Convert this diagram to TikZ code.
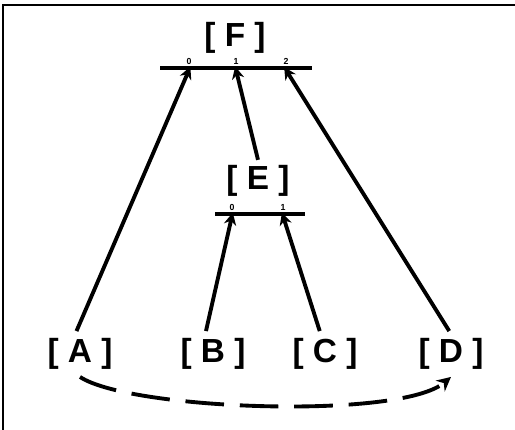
\documentclass[tikz,border=0pt]{standalone}
\usepackage{fontspec}
\setmainfont{Liberation Sans}
\usetikzlibrary{arrows.meta}

\begin{document}
\begin{tikzpicture}[x=0.02cm,y=-0.02cm,
  lbl/.style={font=\fontsize{19}{21}\selectfont\bfseries,inner sep=0pt},
  idx/.style={font=\fontsize{5}{6}\selectfont\bfseries,inner sep=0pt,anchor=south},
  bar/.style={line width=2.2pt},
  link/.style={line width=2.2pt,-{Stealth[length=7pt,width=7pt]},shorten >=-2pt}]
  \useasboundingbox (0,0) rectangle (515,430);
  \draw[line width=1.3pt] (3,430) -- (3,5) -- (515,5);
  % leaves
  \node[lbl] (A) at (80,354) {[ A ]};
  \node[lbl] (B) at (213,354) {[ B ]};
  \node[lbl] (C) at (325,354) {[ C ]};
  \node[lbl] (D) at (451,354) {[ D ]};
  % inner nodes and their bars
  \node[lbl] (F) at (235,38) {[ F ]};
  \node[lbl] (E) at (258,181) {[ E ]};
  \draw[bar] (160,68) -- (312,68);
  \draw[bar] (215,214) -- (305,214);
  \foreach \n/\x/\k in {F0/189/0,F1/236/1,F2/286/2} {
    \coordinate (\n) at (\x,70);
    \node[idx] at (\x,65) {\k};
  }
  \foreach \n/\x/\k in {E0/232/0,E1/283/1} {
    \coordinate (\n) at (\x,216);
    \node[idx] at (\x,211) {\k};
  }
  \draw[link] ([xshift=-2pt,yshift=4pt]A.north) -- (F0);
  \draw[link] ([xshift=-4pt,yshift=4pt]B.north) -- (E0);
  \draw[link] ([xshift=-3pt,yshift=4pt]C.north) -- (E1);
  \draw[link] ([xshift=-1pt,yshift=4pt]D.north) -- (F2);
  \draw[link] ([yshift=3pt]E.north) -- (F1);
  \draw[line width=2.2pt,dash pattern=on 22pt off 9pt,-{Stealth[length=8pt,width=8pt]}]
    ([yshift=-4pt]A.south) .. controls (130,410) and (400,420) .. ([yshift=-4pt]D.south);
\end{tikzpicture}
\end{document}
